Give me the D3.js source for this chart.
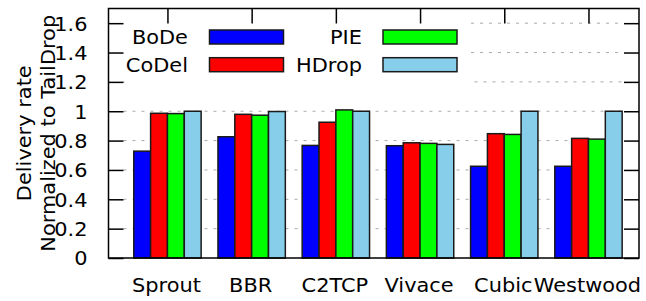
<!DOCTYPE html>
<html><head><meta charset="utf-8">
<script src="https://cdn.jsdelivr.net/npm/d3@7"></script>
<style>body{margin:0;background:#fff}svg{display:block}text{font-family:"DejaVu Sans";fill:#000}</style>
</head><body>
<svg id="c" width="646" height="301"></svg>
<script>
const categories = ["Sprout","BBR","C2TCP","Vivace","Cubic","Westwood"];
const seriesNames = ["BoDe","CoDel","PIE","HDrop"];
const bode  = [0.728,0.826,0.767,0.765,0.625,0.625];
const codel = [0.986,0.979,0.925,0.785,0.847,0.815];
const pie   = [0.984,0.973,1.009,0.781,0.842,0.810];
const hdrop = [1.000,0.998,1.000,0.774,1.000,1.000];
const yTicks = [0,0.2,0.4,0.6,0.8,1,1.2,1.4,1.6];
const colors = ["#0000ff","#ff0000","#00ff00","#87ceeb"];
const series = [bode,codel,pie,hdrop];

const svg = d3.select("#c");
const L=108.5, R=639, T=8.5, B=258;
const x = d3.scaleLinear().domain([-0.7,5.6]).range([L,R]);
const y = d3.scaleLinear().domain([0,1.7]).range([B,T]);
const unit = x(1)-x(0);
const bw = unit/5;
const tl = 15;
const FS = "19px";

// grid
const g = svg.append("g");
yTicks.forEach(t=>{
  if(t===0) return;
  const x0 = (t>=1.3) ? 471 : L+tl;
  g.append("line").attr("x1",x0).attr("x2",R-tl).attr("y1",y(t)).attr("y2",y(t))
   .attr("stroke","#aaaaaa").attr("stroke-width",1).attr("stroke-dasharray","3,6");
});

const axL = d3.axisLeft(y).tickValues(yTicks).tickSize(-tl).tickPadding(0).tickFormat(d3.format("~g"));
const gl = svg.append("g").attr("transform",`translate(${L},0)`).call(axL);
gl.select(".domain").remove();
gl.selectAll(".tick line").attr("stroke","#000").attr("stroke-width",1.5);
gl.selectAll(".tick text").attr("x",-21).attr("dy","0.36em").style("font-size",FS).style("font-family","DejaVu Sans").attr("fill","#000");

const axR = d3.axisRight(y).tickValues(yTicks).tickSize(-tl).tickFormat("");
const gr = svg.append("g").attr("transform",`translate(${R},0)`).call(axR);
gr.select(".domain").remove();
gr.selectAll(".tick line").attr("stroke","#000").attr("stroke-width",1.5);

const idx = d3.range(categories.length);
const axT = d3.axisTop(x).tickValues(idx).tickSize(-tl).tickFormat("");
const gt = svg.append("g").attr("transform",`translate(0,${T})`).call(axT);
gt.select(".domain").remove();
gt.selectAll(".tick line").attr("stroke","#000").attr("stroke-width",1.5);

const axB = d3.axisBottom(x).tickValues(idx).tickSize(-tl).tickPadding(0).tickFormat((d)=>categories[d]);
const gb = svg.append("g").attr("transform",`translate(0,${B})`).call(axB);
gb.select(".domain").remove();
gb.selectAll(".tick line").attr("stroke","#000").attr("stroke-width",1.5);
gb.selectAll(".tick text").attr("x",-1.5).attr("y",34).attr("dy","0").style("font-size",FS).style("font-family","DejaVu Sans").attr("fill","#000");

// legend background
svg.append("rect").attr("x",L+tl+1).attr("y",T+tl+1).attr("width",471-(L+tl+1)).attr("height",70)
  .attr("fill","#fff");

// bars
series.forEach((s,j)=>{
  svg.append("g").selectAll("rect").data(s).join("rect")
    .attr("x",(d,i)=>x(i)+(j-2)*bw)
    .attr("width",bw)
    .attr("y",d=>y(d))
    .attr("height",d=>y(0)-y(d))
    .attr("fill",colors[j])
    .attr("stroke","#1a1a1a").attr("stroke-width",1.5);
});

// border
svg.append("rect").attr("x",L).attr("y",T).attr("width",R-L).attr("height",B-T)
  .attr("fill","none").attr("stroke","#000").attr("stroke-width",1.5);

// legend
const legPos = [[188,209.5,44],[188,209.5,71.7],[362,383,44],[362,383,71.7]];
seriesNames.forEach((n,j)=>{
  const [tx,sx,by] = legPos[j];
  svg.append("text").attr("x",tx).attr("y",by).attr("text-anchor","end").style("font-size",FS).text(n);
  svg.append("rect").attr("x",sx).attr("y",by-14).attr("width",74).attr("height",14)
    .attr("fill",colors[j]).attr("stroke","#1a1a1a").attr("stroke-width",1.5);
});

// y label
const cy = (T+B)/2;
svg.append("text").attr("transform",`translate(31,${cy}) rotate(-90)`)
  .attr("text-anchor","middle").style("font-size",FS).text("Delivery rate");
svg.append("text").attr("transform",`translate(55,${cy}) rotate(-90)`)
  .attr("text-anchor","middle").style("font-size",FS).text("Normalized to TailDrop");

// widen glyphs to match the reference's wider rendering
svg.selectAll("text").each(function(){
  const w = this.getComputedTextLength();
  if (w > 0) d3.select(this).attr("textLength", w*1.1).attr("lengthAdjust","spacingAndGlyphs");
});
</script>
</body></html>
